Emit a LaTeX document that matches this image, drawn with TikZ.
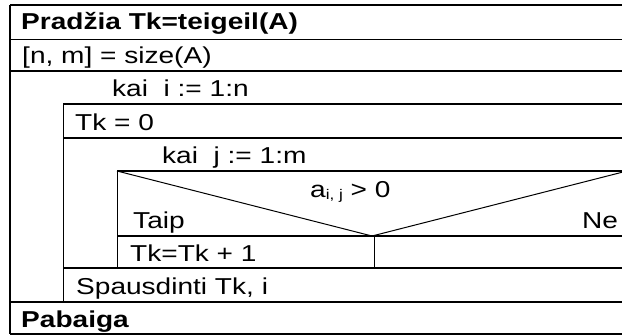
\documentclass[tikz,border=0pt]{standalone}
\usepackage{fontspec}
\setmainfont[FakeStretch=1.22]{Liberation Sans}
\begin{document}
\begin{tikzpicture}[x=1pt,y=-1pt,
  heavy/.style={line width=1.6pt},
  light/.style={line width=1pt},
  txt/.style={anchor=base west, inner sep=0pt, font=\fontsize{23}{27}\selectfont},
  btxt/.style={txt, font=\fontsize{23}{27}\selectfont\bfseries}]
\useasboundingbox (0,0) rectangle (622,335);
\clip (0,0) rectangle (622,335);
% column edges of the structogram
\def\xa{10}\def\xb{63}\def\xc{117}\def\xr{627}
% horizontal rules
\draw[heavy] (\xa,5) -- (\xr,5);
\draw[light] (\xa,39) -- (\xr,39);
\draw[heavy] (\xa,71) -- (\xr,71);
\draw[heavy] (\xb,104) -- (\xr,104);
\draw[heavy] (\xb,138) -- (\xr,138);
\draw[heavy] (\xc,171) -- (\xr,171);
\draw[heavy] (\xc,236) -- (\xr,236);
\draw[heavy] (\xb,268) -- (\xr,268);
\draw[heavy] (\xa,302) -- (\xr,302);
\draw[heavy] (\xa,334) -- (\xr,334);
% vertical rules
\draw[heavy] (\xa,5) -- (\xa,334);
\draw[light] (\xb,104) -- (\xb,302);
\draw[light] (\xc,171) -- (\xc,268);
\draw[light] (374,236) -- (374,268);
% decision triangle
\draw[light] (\xc,171) -- (372,236) -- (\xr,171);
% texts
\node[btxt] (start) at (21,29) {Pradžia Tk=teigeil(A)};
\node[txt] (size) at (22,63) {[n, m] = size(A)};
\node[txt] (loopi) at (112,96) {kai\ \ i := 1:n};
\node[txt] (init) at (75,130) {Tk = 0};
\node[txt] (loopj) at (162,163) {kai\ \ j := 1:m};
\node[txt] (cond) at (310,197) {a\raisebox{-2.5pt}{\fontsize{14}{14}\selectfont i, j} > 0};
\node[txt] (yes) at (133,228) {Taip};
\node[txt] (no) at (582,228) {Ne};
\node[txt] (inc) at (130,261) {Tk=Tk + 1};
\node[txt] (print) at (76,294) {Spausdinti Tk, i};
\node[btxt] (stop) at (21,327) {Pabaiga};
\end{tikzpicture}
\end{document}
